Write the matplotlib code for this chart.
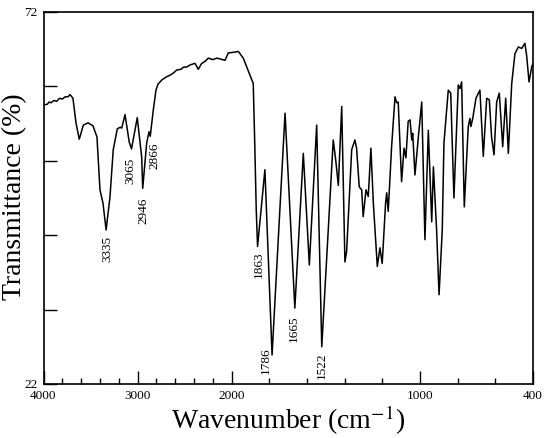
import numpy as np
import matplotlib
matplotlib.use("Agg")
import matplotlib.pyplot as plt

plt.rcParams['font.family'] = ['Liberation Serif', 'DejaVu Serif']
plt.rcParams['mathtext.fontset'] = 'stix'

# spectrum (wavenumber in cm-1, transmittance in %)
wn = [4000, 3960, 3940, 3920, 3890, 3860, 3830, 3800, 3770, 3740, 3718, 3700,
      3687, 3655, 3620, 3577, 3527, 3474, 3432, 3400, 3368, 3335, 3294, 3259,
      3216, 3187, 3169, 3134, 3089, 3065, 3004, 2957, 2946, 2904, 2879, 2866,
      2834, 2805, 2784, 2740, 2691, 2656, 2620, 2585, 2540, 2510, 2479, 2440,
      2391, 2356, 2319, 2290, 2249, 2200, 2160, 2125, 2072, 2037, 1985, 1965,
      1939, 1903, 1886, 1878, 1870, 1863, 1824, 1786, 1717, 1665, 1620, 1588,
      1549, 1522, 1461, 1447, 1434, 1416, 1399, 1390, 1363, 1346, 1337, 1323,
      1310, 1302, 1287, 1275, 1261, 1248, 1227, 1213, 1201, 1183, 1177, 1169,
      1151, 1133, 1124, 1116, 1098, 1085, 1075, 1063, 1053, 1044, 1039, 1027,
      1009, 991, 974, 956, 938, 929, 912, 899, 882, 873, 850, 837,
      820, 797, 788, 779, 765, 744, 735, 730, 720, 703, 682, 664,
      646, 632, 620, 607, 593, 579, 561, 545, 531, 513, 496, 478,
      460, 443, 434, 421, 407, 400]
trans = [59.5, 59.6, 59.9, 59.8, 60.1, 60.0, 60.4, 60.3, 60.6, 60.6, 60.9, 60.6,
         60.4, 57.1, 54.9, 56.8, 57.1, 56.7, 55.2, 48.1, 46.3, 42.7, 47.1, 53.5,
         56.3, 56.5, 56.4, 58.2, 54.5, 53.6, 57.8, 52.5, 48.3, 54.4, 55.9, 55.3,
         58.8, 61.5, 62.3, 62.9, 63.3, 63.5, 63.8, 64.2, 64.3, 64.6, 64.6, 64.9,
         65.1, 64.3, 65.1, 65.3, 65.8, 65.6, 65.8, 65.7, 65.5, 66.5, 66.6, 66.7,
         65.8, 63.5, 62.4, 54.4, 45.4, 40.5, 50.8, 25.9, 58.4, 32.2, 53.0, 38.0,
         56.8, 27.0, 54.8, 51.9, 48.7, 59.3, 38.4, 39.8, 53.5, 54.8, 53.7, 48.5,
         48.1, 44.5, 48.1, 47.2, 53.7, 46.3, 37.8, 40.3, 38.2, 46.3, 47.7, 45.2,
         53.9, 60.6, 59.8, 59.9, 49.2, 53.7, 52.4, 57.3, 57.5, 54.8, 55.7, 50.1,
         55.2, 59.9, 41.4, 56.1, 43.8, 51.2, 42.7, 34.0, 42.7, 54.4, 61.5, 61.1,
         47.0, 62.2, 61.7, 62.6, 45.8, 56.6, 57.7, 56.6, 57.7, 60.4, 61.5, 52.6,
         60.4, 60.2, 55.2, 52.8, 59.9, 61.1, 53.9, 60.4, 53.0, 62.4, 66.4, 67.3,
         67.1, 67.8, 66.2, 62.6, 64.6, 65.1]

peak_wn = [3335, 3065, 2946, 2866, 1863, 1786, 1665, 1522]
peak_t = [42.7, 53.6, 48.3, 55.3, 40.5, 25.9, 32.2, 27.0]
peak_off = [(1, -6), (-1, -9), (1, -9), (4, -6), (1, -5), (-6, 8), (-1, -7), (0, -6)]

xmajor = [4000, 3000, 2000, 1000, 400]
xminor = list(range(3800, 2000, -200)) + list(range(1800, 400, -200))
yticks = [22, 32, 42, 52, 62, 72]
ylabels = ['22', '', '', '', '', '72']


# the chart doubles its scale below 2000 cm-1
def fwd(w):
    w = np.asarray(w, dtype=float)
    return np.where(w >= 2000, w / 2 + 1000, w)


def inv(u):
    u = np.asarray(u, dtype=float)
    return np.where(u >= 2000, (u - 1000) * 2, u)


fig = plt.figure(figsize=(5.5, 4.38), dpi=100)
ax = fig.add_axes([43.5 / 550, 1 - 384 / 438, 489.5 / 550, 372 / 438])
ax.set_xscale('function', functions=(fwd, inv))
ax.plot(wn, trans, color='black', lw=1.1)
ax.set_xlim(4000, 400)
ax.set_ylim(22, 72)

for w, t, txt, off in zip(peak_wn, peak_t, peak_wn, peak_off):
    ax.annotate(str(txt), xy=(w, t), xytext=off, textcoords='offset pixels',
                rotation=90, ha='center', va='top', fontsize=9.5)

ax.set_xticks(xmajor)
ax.set_xticklabels([str(v) for v in xmajor])
ax.set_xticks(xminor, minor=True)
ax.set_yticks(yticks)
ax.set_yticklabels(ylabels)
ax.tick_params(axis='both', which='both', direction='in', labelsize=9.5)
ax.tick_params(axis='x', which='major', length=9.5, width=1, pad=4.5)
ax.tick_params(axis='x', which='minor', length=4.5, width=1)
ax.tick_params(axis='y', which='major', length=9, width=1, pad=4.5)
for s in ax.spines.values():
    s.set_linewidth(1.2)

fig.text(15 / 550, 1 - 197 / 438, 'Transmittance (%)', rotation=90,
         ha='center', va='center', fontsize=20)
fig.text(288 / 550, 1 - 420 / 438, 'Wavenumber (cm$^{-1}$)',
         ha='center', va='center', fontsize=20)

fig.savefig('out.png', dpi=100)
